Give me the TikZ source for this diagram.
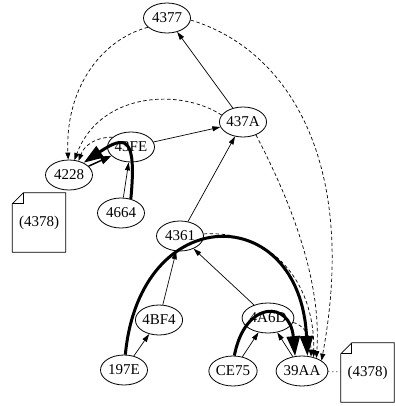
\documentclass[tikz,border=0pt]{standalone}
\usepackage{fontspec}
\setmainfont{Liberation Serif}
\usetikzlibrary{arrows.meta,shapes.geometric}
\begin{document}
\begin{tikzpicture}[x=1pt,y=-1pt,
  nd/.style={ellipse,draw,line width=0.8pt,minimum width=47pt,minimum height=30pt,inner sep=0pt,font=\fontsize{15}{15}\selectfont},
  notebox/.style={minimum width=53pt,minimum height=59pt,inner sep=0pt,font=\fontsize{15}{15}\selectfont},
  ethin/.style={line width=0.7pt,-{Triangle[length=8pt,width=5pt]}},
  emed/.style={line width=1.5pt,-{Triangle[length=11pt,width=8pt]}},
  ethick/.style={line width=3pt,-{Triangle[length=20pt,width=13pt]}},
  edash/.style={line width=0.7pt,dash pattern=on 3.5pt off 2.5pt,-{Triangle[length=7pt,width=5pt]}},
  edot/.style={line width=0.7pt,dash pattern=on 1pt off 3pt}]
\useasboundingbox (0,0) rectangle (395,406);
\node[nd] (n4377) at (167,18) {4377};
\node[nd] (n437A) at (243,122) {437A};
\node[nd] (n43FE) at (131,147) {43FE};
\node[nd] (n4228) at (69,175) {4228};
\node[nd] (n4664) at (121,213) {4664};
\node[nd] (n4361) at (180,236) {4361};
\node[nd] (n4BF4) at (159,320) {4BF4};
\node[nd] (n197E) at (124,370) {197E};
\node[nd] (n4A6D) at (268,318) {4A6D};
\node[nd] (nCE75) at (233,371) {CE75};
\node[nd] (n39AA) at (302,371) {39AA};
\node[notebox] (note1) at (39,222.5) {(4378)};
\node[notebox] (note2) at (367.5,372.5) {(4378)};
\foreach \n in {note1,note2}{
  \draw[line width=0.8pt] ([xshift=11pt]\n.north west) -- (\n.north east) -- (\n.south east) -- (\n.south west) -- ([yshift=-11pt]\n.north west) -- cycle;
  \draw[line width=0.8pt] ([xshift=11pt]\n.north west) -- ([xshift=11pt,yshift=-11pt]\n.north west) -- ([yshift=-11pt]\n.north west);
}
% thin solid
\draw[ethin] (n437A) -- (n4377);
\draw[ethin] (n43FE) -- (n437A);
\draw[ethin] (n4361) -- (n437A);
\draw[emed] (n4228) -- (n43FE);
\draw[ethin] (n4664) -- (n43FE);
\draw[ethin] (n4BF4) -- (n4361);
\draw[ethin] (n197E) -- (n4BF4);
\draw[ethin] (n4A6D) -- (n4361);
\draw[ethin] (nCE75) -- (n4A6D);
\draw[ethin] (n39AA) -- (n4A6D);
% thick
\draw[ethick] (n4664.55) .. controls (137,135) and (125,135) .. (n4228.40);
\draw[ethick] (n197E.85) .. controls (140,200) and (300,200) .. (n39AA.70);
\draw[ethick] (nCE75.85) .. controls (245,300) and (290,300) .. (n39AA.115);
% dashed
\draw[edash] (n4377.206) .. controls (100,40) and (65,90) .. (n4228.93);
\draw[edash] (n437A.162) .. controls (180,88) and (100,92) .. (n4228.70);
\draw[edash] (n43FE.152) .. controls (95,137) and (84,146) .. (n4228.56);
\draw[edash] (n4377.355) .. controls (290,50) and (358,165) .. (n39AA.28);
\draw[edash] (n437A.315) .. controls (290,200) and (322,280) .. (n39AA.42);
\draw[edash] (n4361.5) .. controls (270,230) and (315,280) .. (n39AA.50);
\draw[edash] (n4A6D.350) .. controls (303,325) and (311,335) .. (n39AA.58);
% dotted
\draw[edot] (n39AA) -- (note2);
\end{tikzpicture}
\end{document}
